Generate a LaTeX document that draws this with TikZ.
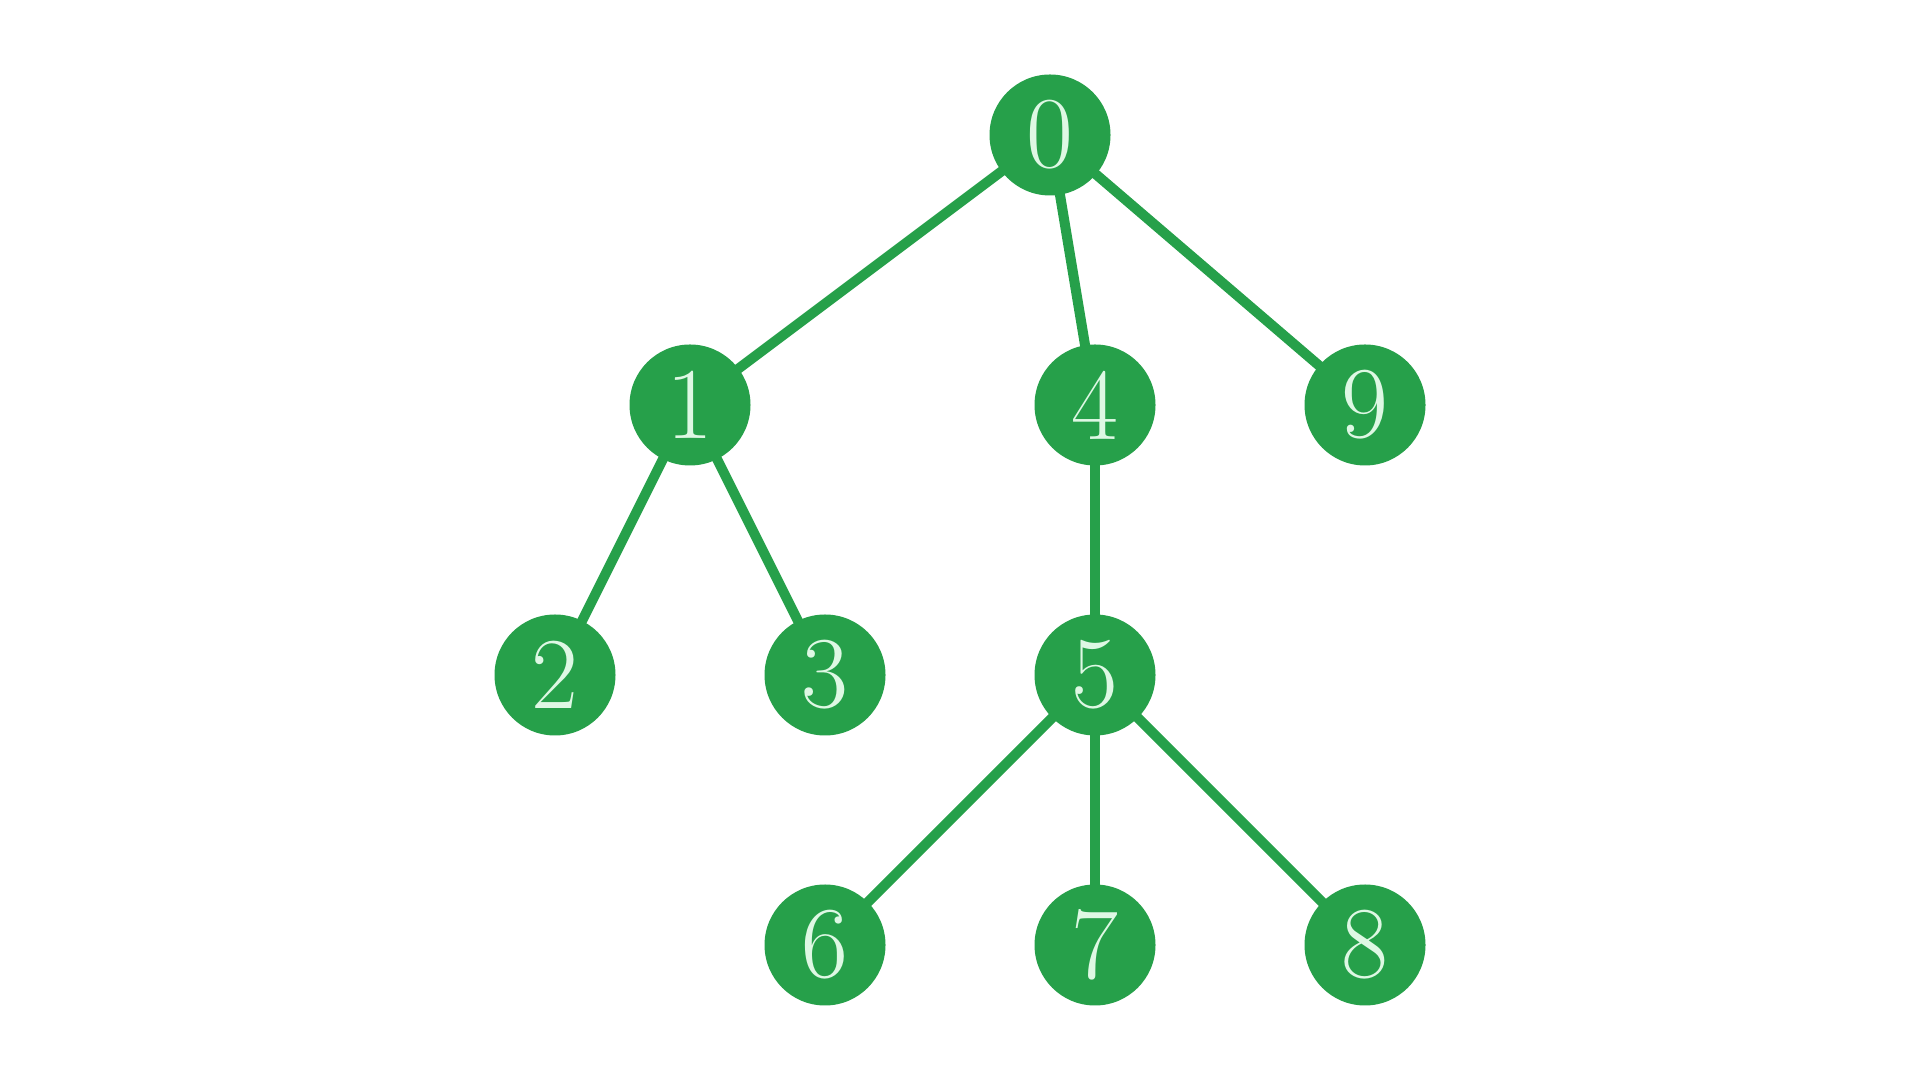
\documentclass[tikz,border=0pt]{standalone}
\usepackage{tikz}
\usetikzlibrary{backgrounds}
\definecolor{treegreen}{RGB}{38,160,74}
\definecolor{digitgreen}{RGB}{222,248,228}

\tikzset{
    treenode/.style={circle, fill=treegreen, minimum size=1.21cm, inner sep=0pt,
        text=digitgreen, font=\fontsize{29}{29}\selectfont},
    treeedge/.style={draw=treegreen, line width=0.1cm}
}

\begin{document}
\begin{tikzpicture}
    \useasboundingbox (0, 0) rectangle (19.2, 10.8);
    \node[treenode] (n0) at (10.5, 9.45) {0};
    \node[treenode] (n1) at (6.9, 6.75) {1};
    \node[treenode] (n4) at (10.95, 6.75) {4};
    \node[treenode] (n9) at (13.65, 6.75) {9};
    \node[treenode] (n2) at (5.55, 4.05) {2};
    \node[treenode] (n3) at (8.25, 4.05) {3};
    \node[treenode] (n5) at (10.95, 4.05) {5};
    \node[treenode] (n6) at (8.25, 1.35) {6};
    \node[treenode] (n7) at (10.95, 1.35) {7};
    \node[treenode] (n8) at (13.65, 1.35) {8};
    \begin{pgfonlayer}{background}
        \draw[treeedge] (n0.center) -- (n1.center);
        \draw[treeedge] (n0.center) -- (n4.center);
        \draw[treeedge] (n0.center) -- (n9.center);
        \draw[treeedge] (n1.center) -- (n2.center);
        \draw[treeedge] (n1.center) -- (n3.center);
        \draw[treeedge] (n4.center) -- (n5.center);
        \draw[treeedge] (n5.center) -- (n6.center);
        \draw[treeedge] (n5.center) -- (n7.center);
        \draw[treeedge] (n5.center) -- (n8.center);
    \end{pgfonlayer}
\end{tikzpicture}
\end{document}
